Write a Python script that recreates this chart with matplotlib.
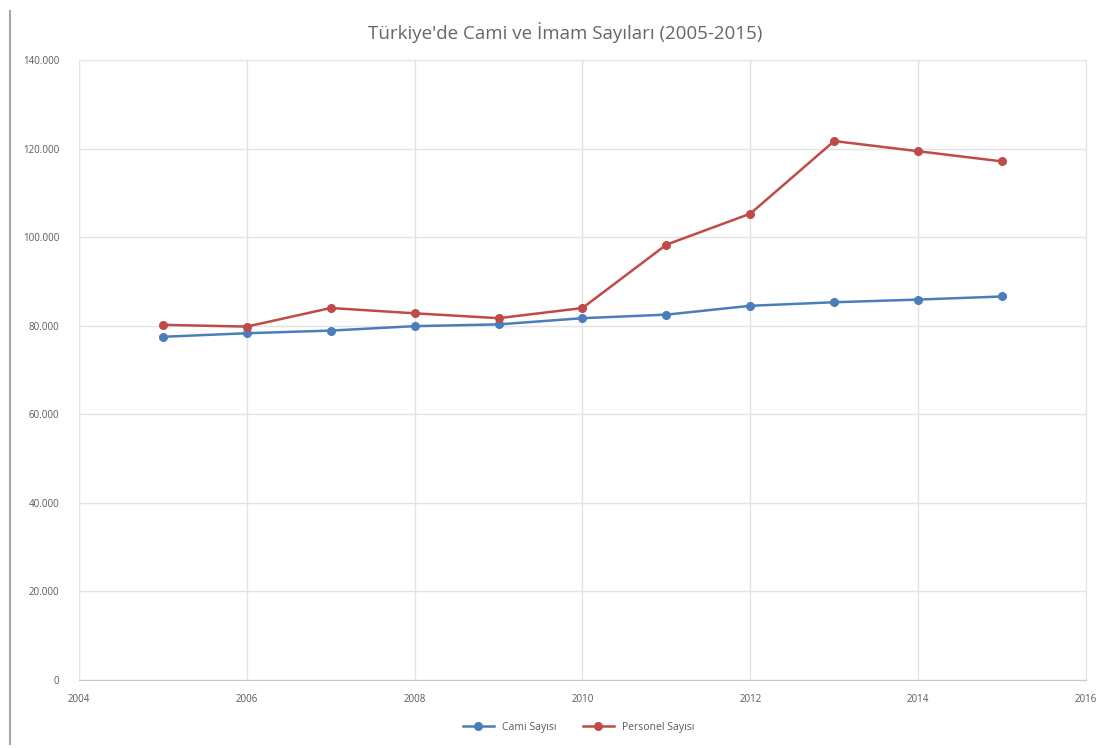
import matplotlib
matplotlib.use("Agg")
import matplotlib.pyplot as plt
from matplotlib.ticker import FuncFormatter, MultipleLocator
from matplotlib.lines import Line2D

# data
years = [2005, 2006, 2007, 2008, 2009, 2010, 2011, 2012, 2013, 2014, 2015]
cami = [77500, 78300, 78900, 79900, 80300, 81700, 82500, 84500, 85300, 85900, 86600]
personel = [80200, 79800, 84000, 82800, 81700, 84000, 98300, 105300, 121700, 119400, 117100]
series_names = ["Cami Sayısı", "Personel Sayısı"]
title = "Türkiye'de Cami ve İmam Sayıları (2005-2015)"

plt.rcParams['font.family'] = ['Open Sans', 'DejaVu Sans']
grey = "#595959"
grid_c = "#e3e3e3"

fig = plt.figure(figsize=(11.13, 7.48), dpi=100)
ax = fig.add_axes([0.071, 0.0909, 0.9047, 0.8289])

ax.plot(years, cami, color="#4a7ebb", lw=1.8, marker="o", ms=5.5, label=series_names[0])
ax.plot(years, personel, color="#be4b48", lw=1.8, marker="o", ms=5.5, label=series_names[1])

ax.set_xlim(2004, 2016)
ax.set_ylim(0, 140000)
ax.xaxis.set_major_locator(MultipleLocator(2))
ax.yaxis.set_major_locator(MultipleLocator(20000))
ax.yaxis.set_major_formatter(FuncFormatter(lambda v, p: f"{int(v):,}".replace(",", ".")))
ax.grid(True, color=grid_c, lw=1)
ax.set_axisbelow(True)
for s in ax.spines.values():
    s.set_color(grid_c)
ax.spines['bottom'].set_color("#c8c8c8")
ax.tick_params(length=0, labelsize=7, colors=grey, pad=10)
ax.tick_params(axis='y', pad=14)

fig.text(0.508, 0.957, title, ha="center", va="center", fontsize=13.5, color="#666666")

fig.legend(loc="center", bbox_to_anchor=(0.52, 0.028), ncol=2, frameon=False,
           fontsize=7.5, labelcolor=grey, handlelength=3, columnspacing=2.5)

# selection frame leftovers of the original screenshot
fig.add_artist(Line2D([0.009, 0.009], [0.005, 0.985], transform=fig.transFigure,
                      color="#a6a6a6", lw=1.5))

fig.savefig("out.png", dpi=100)
